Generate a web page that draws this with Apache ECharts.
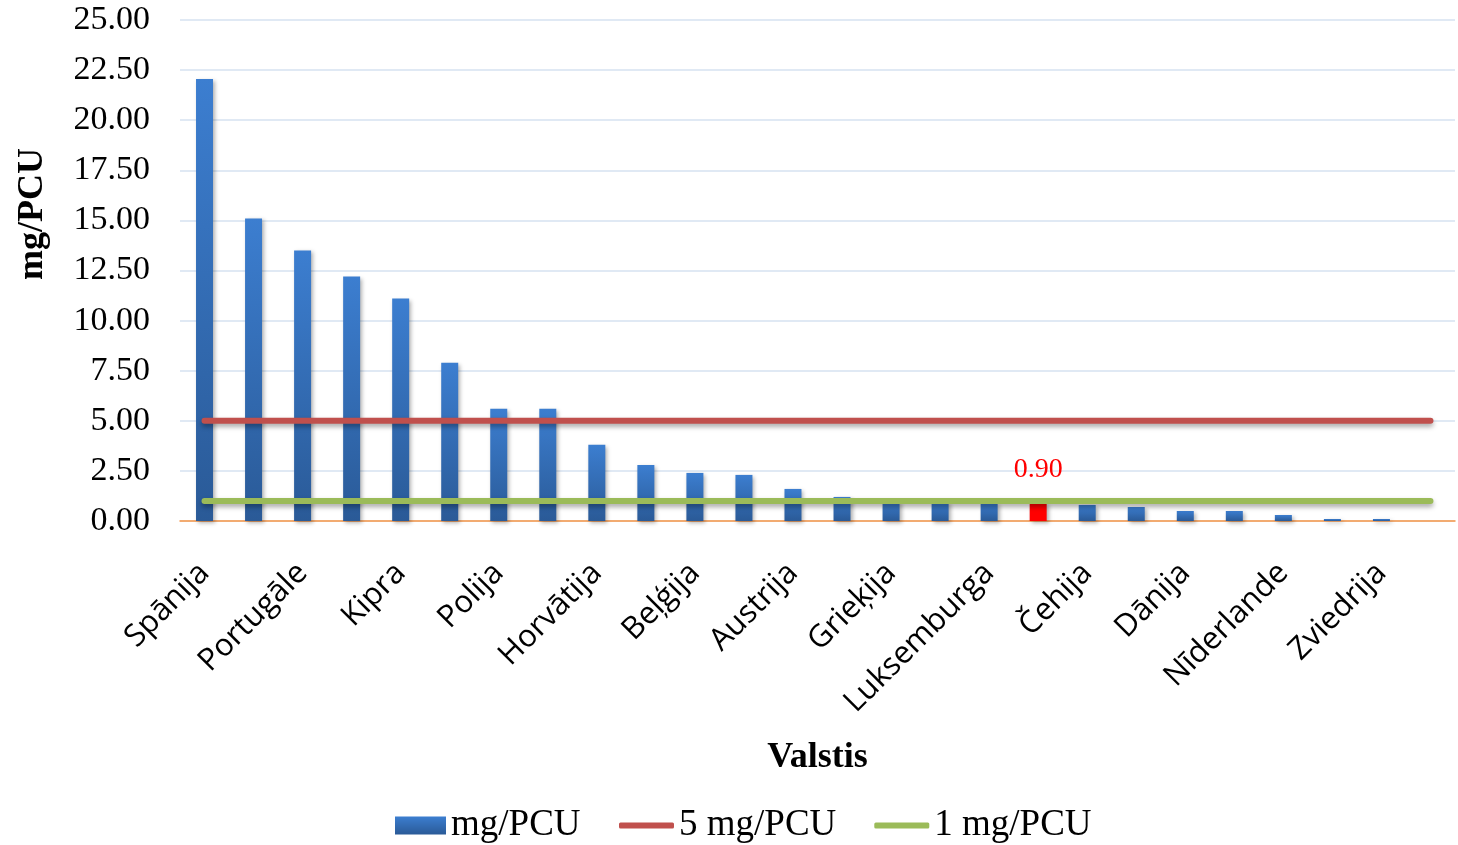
<!DOCTYPE html>
<html>
<head>
<meta charset="utf-8">
<script src="https://cdn.jsdelivr.net/npm/echarts@6/dist/echarts.min.js"></script>
<style>html,body{margin:0;padding:0;background:#fff;}#c{width:1458px;height:845px;}</style>
</head>
<body>
<div id="c"></div>
<script>
const categories = ['Spānija','Itālija','Portugāle','Ungārija','Kipra','Bulgārija','Polija','Rumānija','Horvātija','Francija','Beļģija','Slovākija','Austrija','Vācija','Grieķija','Īrija','Luksemburga','Latvija','Čehija','Lietuva','Dānija','Somija','Nīderlande','Slovēnija','Zviedrija',''];
const values = [22.05,15.1,13.5,12.2,11.1,7.9,5.6,5.6,3.8,2.8,2.4,2.3,1.6,1.2,1.0,0.95,0.9,0.9,0.8,0.7,0.5,0.5,0.3,0.1,0.1];
const highlightIndex = 17;
const limit5 = [5,5,5,5,5,5,5,5,5,5,5,5,5,5,5,5,5,5,5,5,5,5,5,5,5,5];
const limit1 = [1,1,1,1,1,1,1,1,1,1,1,1,1,1,1,1,1,1,1,1,1,1,1,1,1,1];

const chart = echarts.init(document.getElementById('c'));
const serif = 'Liberation Serif';
const barColor = new echarts.graphic.LinearGradient(0,0,0,1,[{offset:0,color:'#3C7ED0'},{offset:1,color:'#2A5A97'}]);
const barData = values.map((v,i)=> i===highlightIndex ? {
  value:v,
  itemStyle:{color:'#FF0000'},
  label:{show:true,position:'top',distance:19,color:'#FF0000',fontFamily:serif,fontSize:28,formatter:p=>p.value.toFixed(2)}
} : v);
const legendText = {fontFamily:serif,fontSize:37,color:'#000'};

chart.setOption({
  animation:false,
  grid:{left:180,right:3,top:20,bottom:324,containLabel:false},
  legend:[
    {left:395,top:807,padding:0,itemWidth:51,itemHeight:18,itemGap:38,textStyle:legendText,
     data:[{name:'mg/PCU',icon:'rect'}]},
    {left:619,top:807,padding:0,itemWidth:55,itemHeight:6,itemGap:38,textStyle:legendText,
     data:[{name:'5 mg/PCU',icon:'roundRect'},{name:'1 mg/PCU',icon:'roundRect'}]}
  ],
  xAxis:{
    type:'category',data:categories,boundaryGap:true,
    name:'Valstis',nameLocation:'middle',nameGap:219,
    nameTextStyle:{fontFamily:serif,fontSize:36,fontWeight:'bold',color:'#000'},
    axisLine:{lineStyle:{color:'#F79646',width:1.5}},
    axisTick:{show:false},
    axisLabel:{interval:1,rotate:45,margin:47,fontFamily:'Open Sans',fontSize:31,color:'#000'}
  },
  yAxis:{
    type:'value',min:0,max:25,interval:2.5,
    axisLine:{show:false},axisTick:{show:false},
    axisLabel:{margin:30,fontFamily:serif,fontSize:34,color:'#000',formatter:v=>v.toFixed(2)},
    splitLine:{lineStyle:{color:'#D6E2F1',width:1.5}}
  },
  graphic:[{
    type:'text',left:15,top:148,rotation:Math.PI/2,
    style:{text:'mg/PCU',font:'bold 36px "Liberation Serif"',fill:'#000'}
  }],
  series:[
    {name:'mg/PCU',type:'bar',data:barData,barWidth:17,
     itemStyle:{color:barColor,shadowBlur:4,shadowOffsetX:2,shadowOffsetY:2,shadowColor:'rgba(0,0,0,0.3)'}},
    {name:'5 mg/PCU',type:'line',data:limit5,symbol:'none',color:'#C0504D',
     lineStyle:{color:'#C0504D',width:6,cap:'round',shadowBlur:5,shadowOffsetY:3,shadowColor:'rgba(0,0,0,0.35)'}},
    {name:'1 mg/PCU',type:'line',data:limit1,symbol:'none',color:'#9BBB59',
     lineStyle:{color:'#9BBB59',width:6,cap:'round',shadowBlur:5,shadowOffsetY:3,shadowColor:'rgba(0,0,0,0.35)'}}
  ]
});
</script>
</body>
</html>
